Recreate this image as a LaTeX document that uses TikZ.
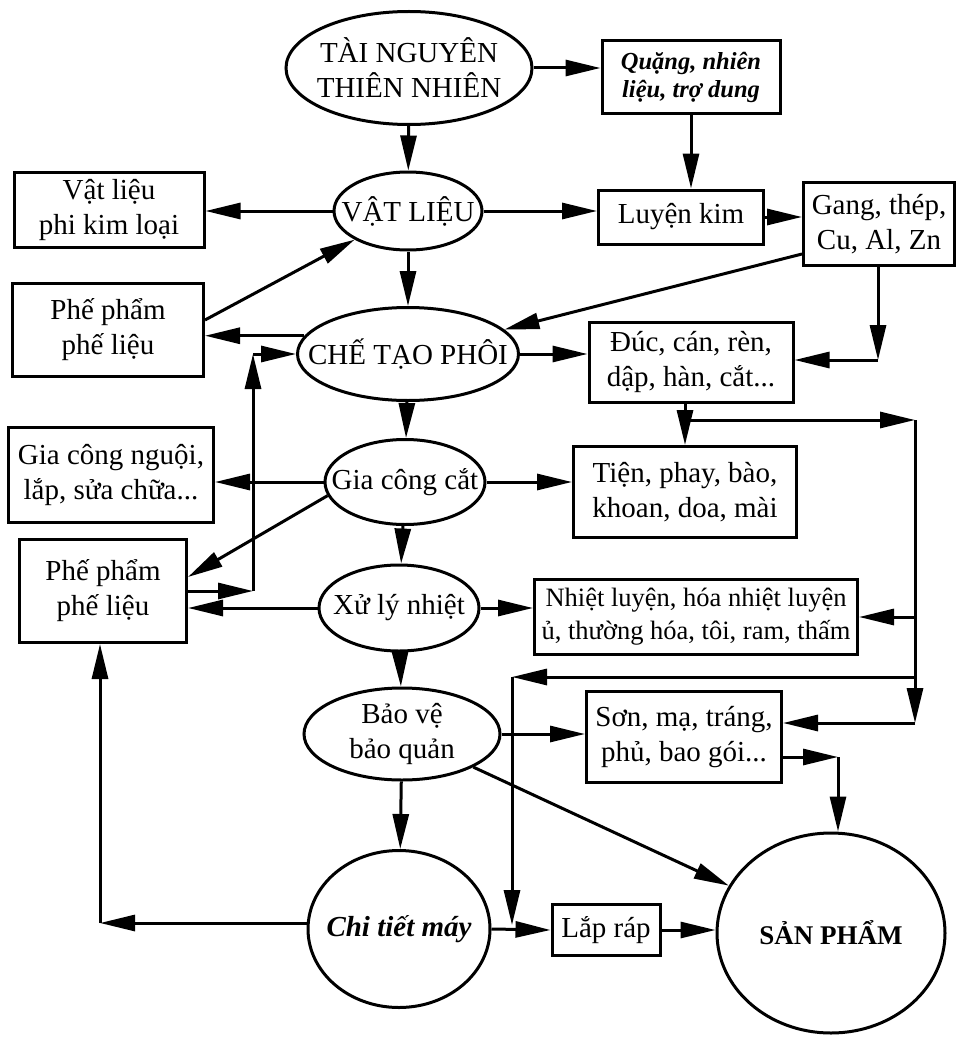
\documentclass[tikz,border=0pt]{standalone}
\usepackage{fontspec}
\setmainfont{Liberation Serif}
\usetikzlibrary{arrows.meta,shapes.geometric,positioning}
\tikzstyle{every node}+=[inner sep=2pt,align=center,font=\fontsize{29}{35}\selectfont]
\tikzstyle{every path}+=[line width=3pt]
\tikzstyle{box}=[draw,rectangle]
\tikzstyle{oval}=[draw,ellipse,inner sep=-100pt]
\tikzstyle{arr}=[-{Triangle[length=35pt,width=16pt]}]

\begin{document}
\begin{tikzpicture}[x=1pt,y=-1pt]
    \useasboundingbox (0,0) rectangle (956,1038);

    % main column
    \node[oval,minimum width=246pt,minimum height=113pt] (tainguyen) at (409,68) {TÀI NGUYÊN\\THIÊN NHIÊN};
    \node[oval,minimum width=148pt,minimum height=78pt] (vatlieu) at (408,211) {VẬT LIỆU};
    \node[oval,minimum width=221pt,minimum height=93pt] (chetao) at (408,354) {CHẾ TẠO PHÔI};
    \node[oval,minimum width=160pt,minimum height=85pt] (giacong) at (405,482) {Gia công cắt};
    \node[oval,minimum width=160pt,minimum height=86pt] (xuly) at (399,608) {Xử lý nhiệt};
    \node[oval,minimum width=196pt,minimum height=92pt] (baove) at (402,734) {Bảo vệ\\bảo quản};
    \node[oval,minimum width=182pt,minimum height=157pt,font=\bfseries\itshape\fontsize{29}{35}\selectfont] (chitiet) at (399,929) {Chi tiết máy};
    \node[oval,minimum width=228pt,minimum height=200pt,font=\bfseries\fontsize{27}{33}\selectfont] (sanpham) at (831,933) {SẢN PHẨM};

    % boxes left and right
    \node[box,minimum width=178pt,minimum height=73pt,font=\bfseries\itshape\fontsize{24.5}{28}\selectfont] (quang) at (691,77) {Quặng, nhiên\\liệu, trợ dung};
    \node[box,minimum width=190pt,minimum height=75pt] (phikim) at (109,210) {Vật liệu\\phi kim loại};
    \node[box,minimum width=165pt,minimum height=54pt] (luyenkim) at (681,217) {Luyện kim};
    \node[box,minimum width=151pt,minimum height=83pt] (gang) at (879,224) {Gang, thép,\\Cu, Al, Zn};
    \node[box,minimum width=191pt,minimum height=93pt] (phepham1) at (108,330) {Phế phẩm\\phế liệu};
    \node[box,minimum width=204pt,minimum height=80pt] (duc) at (691,362) {Đúc, cán, rèn,\\dập, hàn, cắt...};
    \node[box,minimum width=205pt,minimum height=95pt] (nguoi) at (111,475) {Gia công nguội,\\lắp, sửa chữa...};
    \node[box,minimum width=223pt,minimum height=91pt] (tien) at (685,492) {Tiện, phay, bào,\\khoan, doa, mài};
    \node[box,minimum width=167pt,minimum height=103pt] (phepham2) at (103,591) {Phế phẩm\\phế liệu};
    \node[box,minimum width=323pt,minimum height=75pt,font=\fontsize{26.5}{33}\selectfont] (nhietluyen) at (696,617) {Nhiệt luyện, hóa nhiệt luyện\\ủ, thường hóa, tôi, ram, thấm};
    \node[box,minimum width=195pt,minimum height=91pt] (son) at (684,737) {Sơn, mạ, tráng,\\phủ, bao gói...};
    \node[box,minimum width=108pt,minimum height=51pt] (laprap) at (606,930) {Lắp ráp};

    % top part
    \draw[arr] (tainguyen) -- (vatlieu);
    \draw[arr] (tainguyen.east) -- (tainguyen.east -| quang.west);
    \draw[arr] (quang.south) -- (quang.south |- luyenkim.north);
    \draw[arr] (vatlieu.west) -- (vatlieu.west -| phikim.east);
    \draw[arr] (vatlieu.east) -- (vatlieu.east -| luyenkim.west);
    \draw[arr] (luyenkim.east) -- (luyenkim.east -| gang.west);
    \draw[arr] (vatlieu) -- (chetao);
    \draw[arr] ([yshift=10pt]phepham1.east) -- (vatlieu);
    \draw[arr] ([yshift=13pt]gang.south west) -- (chetao);
    \coordinate (gd) at (878,360);
    \draw[arr] (gang.south -| gd) -- (gd);
    \draw[arr] (gd) -- (gd -| duc.east);
    \draw[arr] (chetao.170) -- (chetao.170 -| phepham1.east);
    \draw[arr] (chetao.east) -- (chetao.east -| duc.west);
    \draw[arr] (chetao) -- (giacong);

    % scrap back to the blanks
    \coordinate (p1) at (253,591);
    \coordinate (p2) at (253,354);
    \draw[arr] (phepham2.east) -- (p1);
    \draw[arr] (p1) -- (p2);
    \draw[arr] (p2) -- (chetao.west);

    % cutting and heat treatment
    \draw[arr] (giacong.west) -- (giacong.west -| nguoi.east);
    \draw[arr] (giacong.190) -- ([yshift=14pt]phepham2.east);
    \draw[arr] (giacong.east) -- (giacong.east -| tien.west);
    \draw[arr] (giacong) -- (xuly);
    \draw[arr] (xuly.west) -- (xuly.west -| phepham2.east);
    \draw[arr] (xuly.east) -- (xuly.east -| nhietluyen.west);
    \draw[arr] (xuly) -- (baove);
    \draw[arr] (baove) -- (chitiet);
    \draw[arr] (baove.east) -- (baove.east -| son.west);
    \draw[arr] (baove) -- (sanpham);
    \draw[arr] (chitiet.east) -- (laprap.west);
    \draw[arr] (laprap.east) -- (laprap.east -| sanpham.west);

    % right-hand loop
    \coordinate (d1) at (685,420);
    \coordinate (r1) at (915,420);
    \coordinate (r3) at (915,677);
    \coordinate (r4) at (915,723);
    \coordinate (l1) at (512,677);
    \coordinate (l2) at (512,925);
    \draw[arr] (duc.south -| tien.north) -- (tien.north);
    \draw[arr] (d1) -- (r1);
    \draw[arr] (r1) -- (r4);
    \draw[arr] (r1 |- nhietluyen.east) -- (nhietluyen.east);
    \draw[arr] (r3) -- (l1);
    \draw[arr] (l1) -- (l2);
    \draw[arr] (r4) -- (r4 -| son.east);
    \coordinate (s1) at (838,757);
    \draw[arr] ([yshift=-20pt]son.east) -- (s1);
    \draw[arr] (s1) -- (s1 |- sanpham.north);

    % back to the scrap box
    \coordinate (b1) at (100,923);
    \draw[arr] (chitiet.west |- b1) -- (b1);
    \draw[arr] (b1) -- (b1 |- phepham2.south);
\end{tikzpicture}
\end{document}
